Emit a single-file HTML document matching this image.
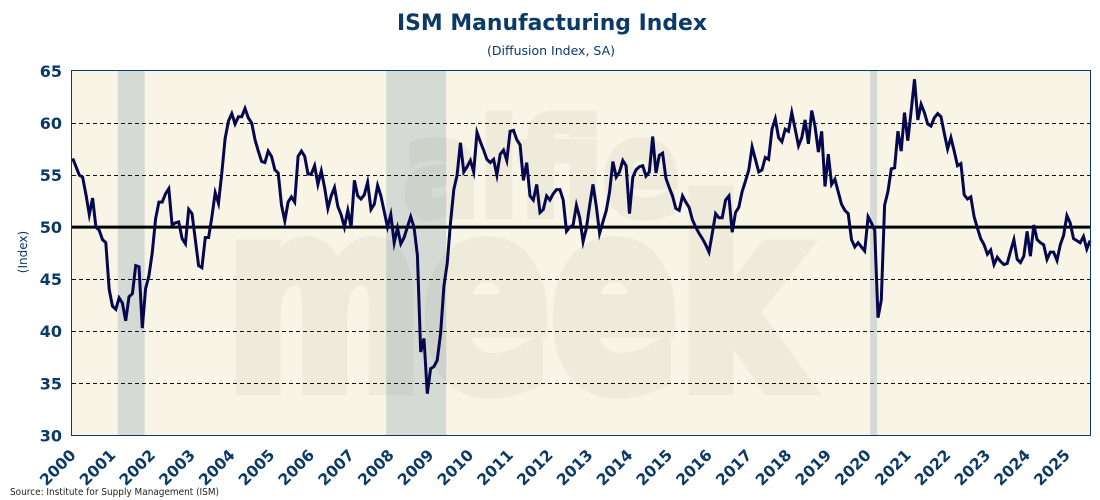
<!DOCTYPE html>
<html lang="en">
<head>
<meta charset="utf-8">
<title>ISM Manufacturing Index</title>
<style>
html,body{margin:0;padding:0;background:#fff;width:1100px;height:500px;overflow:hidden}
svg{display:block}
text{font-family:"DejaVu Sans","Liberation Sans",sans-serif}
</style>
</head>
<body>
<svg id="chart" xmlns="http://www.w3.org/2000/svg" width="1100" height="500" viewBox="0 0 1100 500">
  <rect x="71.5" y="70.5" width="1019" height="365" fill="#f8f5e6"/>
  <g fill="#eeebdb" stroke="#eeebdb" font-weight="bold">
    <text transform="translate(226 387) scale(0.74 1)" font-size="255" stroke-width="16">meek</text>
    <text transform="translate(403 215) scale(0.86 1)" font-size="132" stroke-width="8">alfie</text>
  </g>
  <g id="bands"></g>
  <g id="grid"></g>
  <g id="ylabels"></g>
  <g id="xlabels"></g>
  <line id="refline" x1="72" x2="1090" stroke="#000" stroke-width="3"/>
  <polyline id="series" fill="none" stroke="#07074d" stroke-width="3" stroke-linejoin="miter" stroke-miterlimit="6"/>
  <rect x="71.5" y="70.5" width="1019" height="365" fill="none" stroke="#0b3a66" stroke-width="1"/>
  <text x="552" y="30" text-anchor="middle" font-size="22.5" font-weight="bold" fill="#0b3a66" textLength="310" lengthAdjust="spacingAndGlyphs">ISM Manufacturing Index</text>
  <text x="551" y="55" text-anchor="middle" font-size="12.5" fill="#0b3a66" textLength="128" lengthAdjust="spacingAndGlyphs">(Diffusion Index, SA)</text>
  <text transform="translate(27 252) rotate(-90)" text-anchor="middle" font-size="12" fill="#0b3a66">(Index)</text>
  <text x="10" y="495" font-size="10" fill="#222" textLength="209" lengthAdjust="spacingAndGlyphs">Source: Institute for Supply Management (ISM)</text>
</svg>
<script>
const years = [2000,2001,2002,2003,2004,2005,2006,2007,2008,2009,2010,2011,2012,2013,2014,2015,2016,2017,2018,2019,2020,2021,2022,2023,2024,2025];
const yTicks = [30,35,40,45,50,55,60,65];
const referenceLevel = 50;
const recessionStartMonths = [14,95,241];
const recessionEndMonths = [22,113,243];
const monthlyIndex = [
56.6,55.8,55,54.8,53.1,51.2,52.8,50,49.7,48.8,48.5,44,
42.4,42.1,43.2,42.7,41,43.3,43.6,46.3,46.2,40.3,44.1,45.3,
47.5,50.8,52.4,52.4,53.2,53.7,50.2,50.4,50.5,48.9,48.4,51.7,
51.3,48.8,46.3,46.1,49,49,51,53.3,52.3,55.2,58.5,60.2,
60.9,59.9,60.6,60.6,61.4,60.5,60,58.4,57.3,56.3,56.2,57.3,
56.8,55.5,55.2,52.1,50.6,52.4,52.9,52.4,56.8,57.3,56.8,55.1,
55.1,55.9,54.1,55.4,53.8,51.8,53,53.8,52,51.2,50,51.6,
50,54.5,53,52.7,53.1,54.3,51.7,52.2,54,53,51.5,50,
51.2,48.5,49.9,48.4,49,50,51,50,47.3,38,39.3,34,
36.4,36.6,37.2,39.8,44.3,46.5,50.4,53.6,55,58.1,55.3,55.8,
56.4,55.3,59.1,58.2,57.4,56.5,56.2,56.5,55,57,57.4,56.4,
59.2,59.3,58.4,57.9,54.5,56.2,53,52.6,54.1,51.4,51.7,53,
52.6,53.2,53.6,53.6,52.6,49.6,50,50.2,52.1,50.9,48.6,49.9,
52.1,54.1,52,49.4,50.5,51.6,53.4,56.3,54.8,55.3,56.4,55.9,
51.3,54.8,55.5,55.8,55.9,54.9,55.3,58.7,55.2,56.9,57.1,54.7,
53.8,53,51.8,51.6,53,52.4,51.9,50.7,50,49.4,48.9,48.3,
47.6,49.4,51.3,50.9,50.9,52.6,53,49.5,51.4,51.9,53.4,54.4,
55.5,57.7,56.5,55.3,55.5,56.7,56.5,59.4,60.4,58.6,58.2,59.4,
59.2,61,59.4,57.8,58.6,60.3,58,61.2,59.7,57.2,59.2,53.9,
57,54.1,54.6,53.4,52.2,51.6,51.3,48.8,48.1,48.5,48.1,47.7,
51,50.4,49.7,41.3,43,52.1,53.4,55.6,55.7,59.2,57.3,61,
58.3,61.1,64.2,60.3,61.8,61,59.9,59.7,60.5,60.9,60.6,59,
57.5,58.6,57.3,55.9,56.1,53.1,52.7,52.9,51,49.9,48.9,48.3,
47.4,47.8,46.4,47.1,46.7,46.4,46.5,47.7,48.8,46.9,46.6,47.2,
49.6,47.2,50.2,48.8,48.5,48.3,46.9,47.6,47.6,46.8,48.3,49.2,
51.1,50.4,48.9,48.7,48.5,49.1,47.9,48.7
];

const NS = 'http://www.w3.org/2000/svg';
const xOfMonth = m => 72.7 + m * 3.314;
const yOfValue = v => 435.3 - (v - 30) * 10.41;

const bandsG = document.getElementById('bands');
recessionStartMonths.forEach((start, i) => {
  const r = document.createElementNS(NS, 'rect');
  const x0 = xOfMonth(start - 0.4);
  const x1 = xOfMonth(recessionEndMonths[i] - 0.3);
  r.setAttribute('x', x0);
  r.setAttribute('y', 71);
  r.setAttribute('width', x1 - x0);
  r.setAttribute('height', 364);
  r.setAttribute('fill', 'rgba(73,110,140,0.2)');
  
  
  bandsG.appendChild(r);
});

const gridG = document.getElementById('grid');
const yG = document.getElementById('ylabels');
yTicks.forEach(t => {
  const y = yOfValue(t);
  if (t !== 30 && t !== 65 && t !== referenceLevel) {
    const l = document.createElementNS(NS, 'line');
    l.setAttribute('x1', 72);
    l.setAttribute('x2', 1090);
    l.setAttribute('y1', Math.round(y) + 0.5);
    l.setAttribute('y2', Math.round(y) + 0.5);
    l.setAttribute('stroke', '#111');
    l.setAttribute('stroke-width', 1);
    l.setAttribute('stroke-dasharray', '4 3');
    
    
    gridG.appendChild(l);
  }
  const txt = document.createElementNS(NS, 'text');
  txt.setAttribute('x', 62);
  txt.setAttribute('y', y + 6);
  txt.setAttribute('text-anchor', 'end');
  txt.setAttribute('font-size', 16);
  txt.setAttribute('font-weight', 'bold');
  txt.setAttribute('fill', '#0b3a66');
  
  
  txt.textContent = t;
  yG.appendChild(txt);
});

const xG = document.getElementById('xlabels');
years.forEach((yr, i) => {
  const x = xOfMonth(i * 12) + 4;
  const txt = document.createElementNS(NS, 'text');
  txt.setAttribute('transform', 'translate(' + x + ' 456) rotate(-45)');
  txt.setAttribute('text-anchor', 'end');
  txt.setAttribute('font-size', 15.5);
  txt.setAttribute('font-weight', 'bold');
  txt.setAttribute('fill', '#0b3a66');
  
  
  txt.textContent = yr;
  xG.appendChild(txt);
});

const ref = document.getElementById('refline');
ref.setAttribute('y1', yOfValue(referenceLevel));
ref.setAttribute('y2', yOfValue(referenceLevel));

document.getElementById('series').setAttribute('points',
  monthlyIndex.map((v, m) => xOfMonth(m).toFixed(1) + ',' + yOfValue(v).toFixed(1)).join(' '));
</script>
</body>
</html>
